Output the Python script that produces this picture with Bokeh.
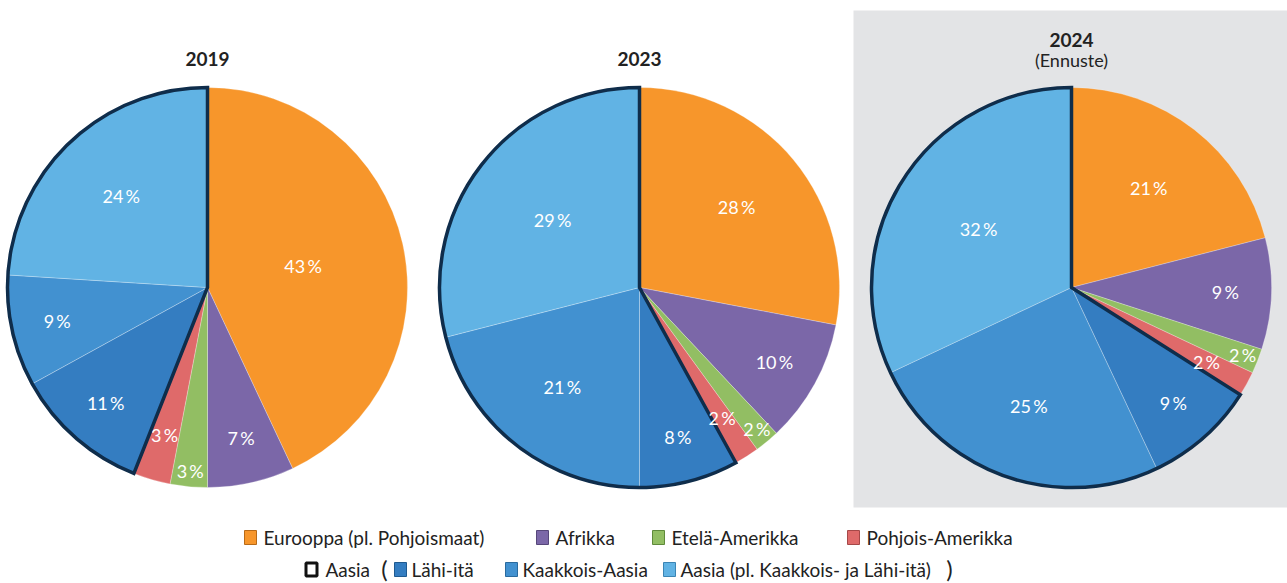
import math
from bokeh.plotting import figure
from bokeh.models import Range1d
from bokeh.core.properties import value
from bokeh.embed import file_html
from bokeh.resources import INLINE

# ---------------- data ----------------
years = ["2019", "2023", "2024"]
subtitles = ["", "", "(Ennuste)"]
regions = ["Eurooppa (pl. Pohjoismaat)", "Afrikka", "Etelä-Amerikka", "Pohjois-Amerikka",
           "Lähi-itä", "Kaakkois-Aasia", "Aasia (pl. Kaakkois- ja Lähi-itä)"]
shares_2019 = [43, 7, 3, 3, 11, 9, 24]
shares_2023 = [28, 10, 2, 2, 8, 21, 29]
shares_2024 = [21, 9, 2, 2, 9, 25, 32]
asia_group = [False, False, False, False, True, True, True]
legend_row1 = ["Eurooppa (pl. Pohjoismaat)", "Afrikka", "Etelä-Amerikka", "Pohjois-Amerikka"]
legend_row2 = ["Lähi-itä", "Kaakkois-Aasia", "Aasia (pl. Kaakkois- ja Lähi-itä)"]
asia_label = "Aasia"

# ---------------- style ----------------
colors = ["#F7962B", "#7B67A8", "#92BE63", "#DF6A6A", "#347DC1", "#4291D0", "#61B3E4"]
edge_colors = ["#B86A17", "#56477A", "#5F8A3A", "#A54848", "#1F5A90", "#2A6A9E", "#3B85B4"]
navy = "#0F2D4B"
panel_gray = "#E3E4E6"
FONT = value("Lato")

W, H = 1287, 583
def sy(y_screen):
    return H - y_screen

p = figure(width=W, height=H, output_backend="svg", toolbar_location=None,
           x_range=Range1d(0, W), y_range=Range1d(0, H), min_border=0)
p.axis.visible = False
p.grid.visible = False
p.outline_line_color = None
p.background_fill_color = "white"

# forecast panel background
p.quad(left=853, right=W + 10, bottom=sy(507), top=sy(10), fill_color=panel_gray, line_color=None)

centers_x = [207, 639, 1071]
center_y = sy(287)
R = 200
all_shares = [shares_2019, shares_2023, shares_2024]

for k, shares in enumerate(all_shares):
    cx = centers_x[k]
    total = float(sum(shares))
    fr = [v / total for v in shares]
    cum = [0.0]
    for f in fr:
        cum.append(cum[-1] + f)
    starts = [math.pi / 2 - 2 * math.pi * c for c in cum[:-1]]
    ends = [math.pi / 2 - 2 * math.pi * c for c in cum[1:]]
    p.wedge(x=[cx] * len(fr), y=[center_y] * len(fr), radius=R,
            start_angle=starts, end_angle=ends, direction="clock",
            fill_color=colors, line_color="white", line_width=0.6, line_alpha=0.45)
    # Asia group outline
    ia = asia_group.index(True)
    p.wedge(x=[cx], y=[center_y], radius=R,
            start_angle=[math.pi / 2 - 2 * math.pi * cum[ia]], end_angle=[math.pi / 2 - 2 * math.pi],
            direction="clock", fill_color=None, line_color=navy, line_width=3.5, line_join="miter")
    # labels
    lx, ly, lt = [], [], []
    for i, f in enumerate(fr):
        mid = (cum[i] + cum[i + 1]) / 2 * 2 * math.pi
        if f >= 0.4:
            rf = 0.49
        elif f >= 0.29:
            rf = 0.55
        elif f >= 0.15:
            rf = 0.63
        elif f < 0.05 and i + 1 < len(fr) and fr[i + 1] < 0.05:
            rf = 0.92
        else:
            rf = 0.77
        lx.append(cx + rf * R * math.sin(mid))
        ly.append(center_y + rf * R * math.cos(mid))
        lt.append(f"{shares[i]}\u2009%")
    p.text(x=lx, y=ly, text=lt, text_color="white", text_font=FONT, text_font_size="18px",
           text_align="center", text_baseline="middle")
    # titles
    if subtitles[k]:
        p.text(x=[cx], y=[sy(39)], text=[years[k]], text_font=FONT, text_font_style="bold",
               text_font_size="19px", text_align="center", text_baseline="middle", text_color="#222222")
        p.text(x=[cx], y=[sy(59)], text=[subtitles[k]], text_font=FONT, text_font_size="18px",
               text_align="center", text_baseline="middle", text_color="#222222")
    else:
        p.text(x=[cx], y=[sy(58)], text=[years[k]], text_font=FONT, text_font_style="bold",
               text_font_size="19px", text_align="center", text_baseline="middle", text_color="#222222")

# ---------------- legend ----------------
row1_y = sy(537)
row2_y = sy(569)
sq = 13
row1_sq_x = [250, 542, 658, 853]
p.rect(x=row1_sq_x, y=[row1_y] * 4, width=sq - 1, height=sq + 1,
       fill_color=colors[:4], line_color=edge_colors[:4], line_width=1)
p.text(x=[x + 13 for x in row1_sq_x], y=[row1_y] * 4, text=legend_row1, text_font=FONT,
       text_font_size="19px", text_align="left", text_baseline="middle", text_color="#222222")

# Asia group item
p.rect(x=[311], y=[row2_y], width=sq - 2, height=sq, fill_color="white", line_color="#111111", line_width=3)
p.text(x=[325], y=[row2_y], text=[asia_label], text_font=FONT, text_font_size="19px",
       text_align="left", text_baseline="middle", text_color="#222222")
p.text(x=[384, 949], y=[row2_y + 1] * 2, text=["(", ")"], text_font=FONT, text_font_size="24px",
       text_align="center", text_baseline="middle", text_color="#222222")
row2_sq_x = [400, 511, 669]
p.rect(x=row2_sq_x, y=[row2_y] * 3, width=sq - 1, height=sq + 1,
       fill_color=colors[4:], line_color=edge_colors[4:], line_width=1)
p.text(x=[x + 11 for x in row2_sq_x], y=[row2_y] * 3, text=legend_row2, text_font=FONT,
       text_font_size="19px", text_align="left", text_baseline="middle", text_color="#222222")

open("out.html", "w").write(file_html(p, INLINE))
